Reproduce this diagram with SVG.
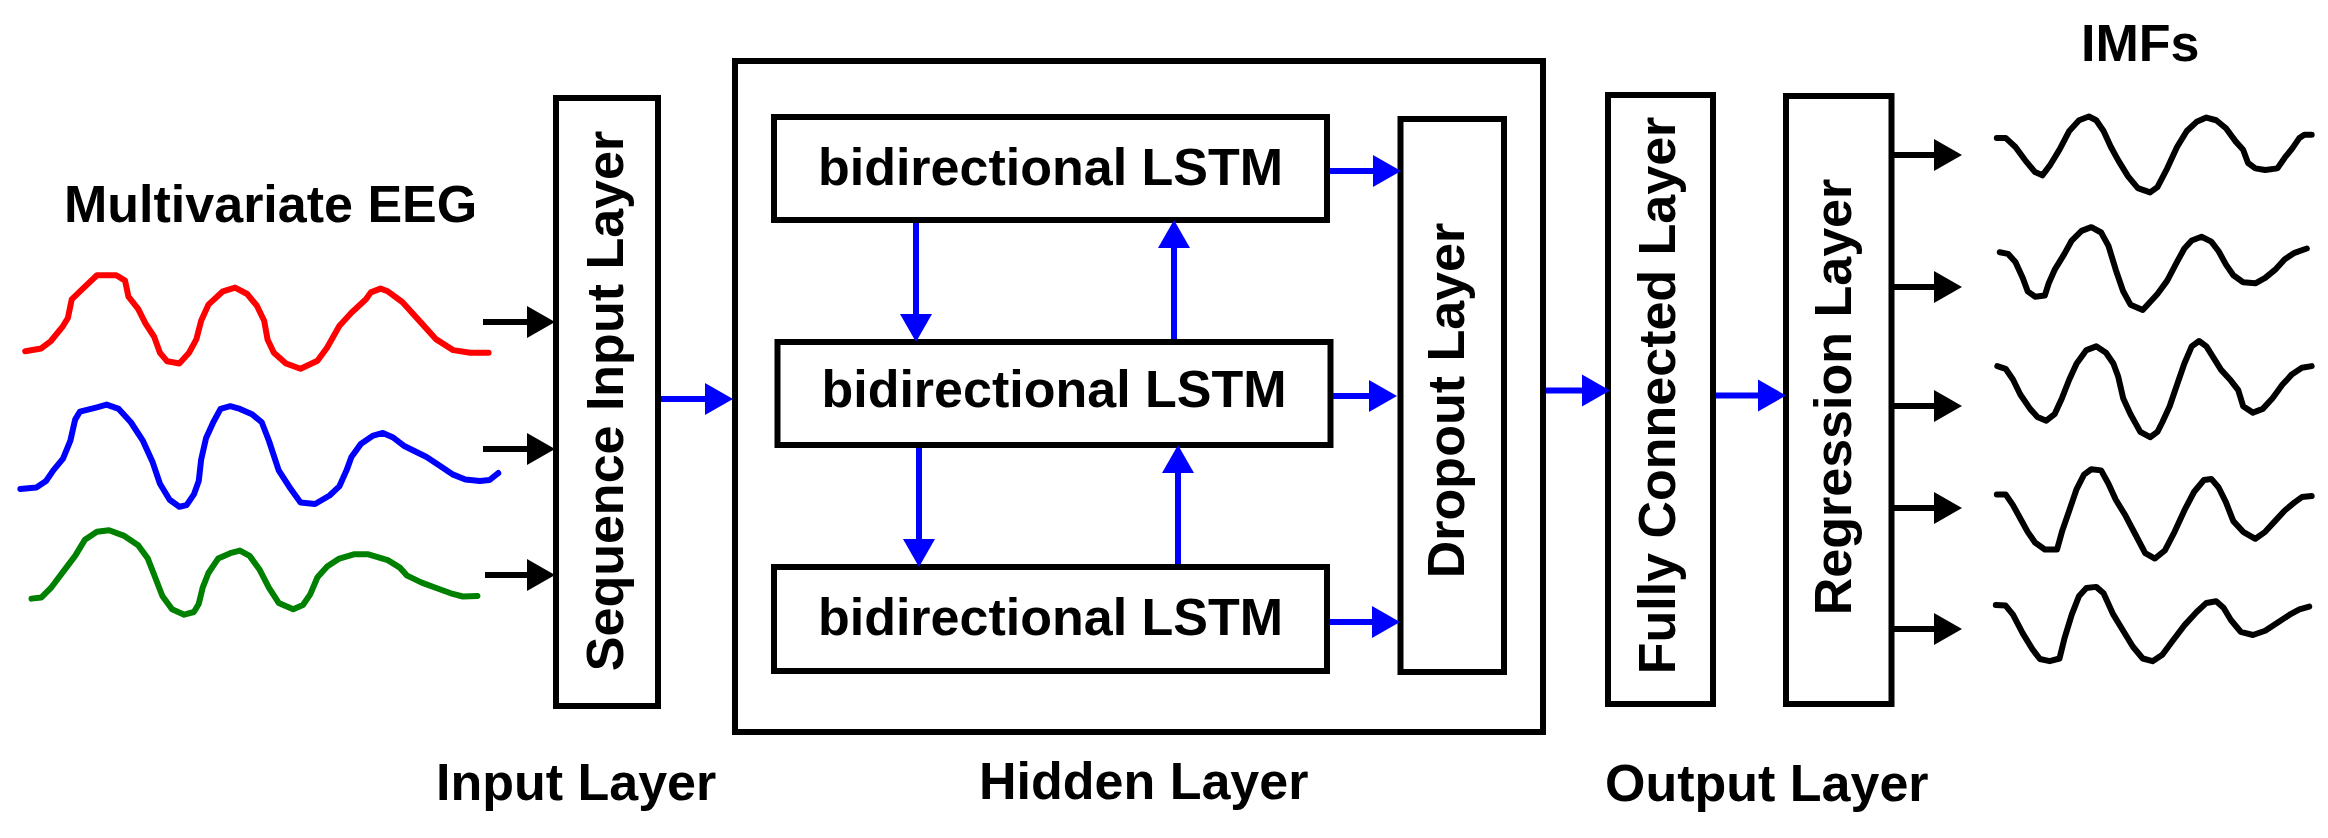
<svg xmlns="http://www.w3.org/2000/svg" width="2328" height="838" viewBox="0 0 2328 838">
<style>
.box{fill:#fff;stroke:#000;stroke-width:6}
.t{font-family:"Liberation Sans",Arial,Helvetica,sans-serif;font-weight:bold;font-size:52px;fill:#000}
.blue{stroke:#0000ff;stroke-width:6;fill:none;marker-end:url(#hb)}
.black{stroke:#000;stroke-width:6;fill:none;marker-end:url(#hk)}
.wave{fill:none;stroke-width:6;stroke-linejoin:round;stroke-linecap:round}
</style>
<defs>
<marker id="hb" markerUnits="userSpaceOnUse" markerWidth="28" markerHeight="32" refX="0" refY="16" orient="auto" overflow="visible">
<path d="M0,0 L28,16 L0,32 z" fill="#0000ff"/>
</marker>
<marker id="hk" markerUnits="userSpaceOnUse" markerWidth="28" markerHeight="32" refX="0" refY="16" orient="auto" overflow="visible">
<path d="M0,0 L28,16 L0,32 z" fill="#000"/>
</marker>
</defs>
<rect width="2328" height="838" fill="#fff"/>

<g id="eeg-signals">
<text class="t" x="64" y="222">Multivariate EEG</text>
<g transform="scale(0.4847,0.5345)">
<polyline class="wave" vector-effect="non-scaling-stroke" stroke="#ff0000" points="52,657 85,652 105,638 130,610 140,595 148,560 165,545 200,515 240,515 258,525 265,555 285,578 300,605 318,630 330,660 345,676 370,680 390,660 405,635 415,600 430,570 460,545 485,538 510,550 530,572 545,600 552,635 565,660 590,680 620,690 655,675 675,650 700,610 725,585 755,560 765,547 785,540 800,545 830,565 870,605 900,635 935,655 970,660 1008,660"/>
<polyline class="wave" vector-effect="non-scaling-stroke" stroke="#0000ff" points="42,915 75,912 95,900 110,880 130,858 145,825 155,785 165,770 200,762 220,757 245,765 270,790 295,825 315,865 330,905 350,935 370,948 385,945 400,925 410,900 415,860 425,820 440,790 455,765 475,760 495,765 520,775 540,790 555,825 575,880 600,915 620,940 650,943 680,927 700,910 715,880 725,855 745,830 770,815 790,810 810,818 835,835 880,855 905,870 935,888 960,897 990,900 1010,898 1028,885"/>
<polyline class="wave" vector-effect="non-scaling-stroke" stroke="#008000" points="65,1120 85,1118 105,1100 130,1070 155,1040 175,1010 200,995 225,992 255,1002 285,1020 305,1045 320,1080 335,1115 355,1140 380,1150 400,1145 410,1130 418,1100 430,1072 450,1045 475,1035 495,1030 515,1040 535,1065 555,1100 575,1128 605,1140 625,1132 640,1112 655,1080 675,1060 700,1045 730,1037 760,1037 800,1048 825,1062 840,1077 870,1090 900,1100 930,1110 955,1116 985,1115"/>
</g>
</g>

<g id="input-layer">
<rect class="box" x="556" y="98" width="102" height="608"/>
<text class="t" text-anchor="middle" transform="translate(622.5,401) rotate(-90)">Sequence Input Layer</text>
<text class="t" x="436" y="800">Input Layer</text>
</g>

<g id="hidden-layer">
<rect class="box" x="735" y="61" width="808" height="671"/>
<text class="t" x="979" y="799">Hidden Layer</text>
</g>

<g id="lstm1">
<rect class="box" x="774" y="117" width="553" height="103"/>
<text class="t" x="1050.5" y="185" text-anchor="middle">bidirectional LSTM</text>
</g>
<g id="lstm2">
<rect class="box" x="777.5" y="342" width="553" height="103"/>
<text class="t" x="1054" y="407" text-anchor="middle">bidirectional LSTM</text>
</g>
<g id="lstm3">
<rect class="box" x="774" y="567" width="553" height="104"/>
<text class="t" x="1050.5" y="634.5" text-anchor="middle">bidirectional LSTM</text>
</g>

<g id="dropout">
<rect class="box" x="1400.5" y="119" width="103.5" height="553"/>
<text class="t" text-anchor="middle" transform="translate(1464,400.5) rotate(-90)">Dropout Layer</text>
</g>

<g id="fully-connected">
<rect class="box" x="1608" y="95" width="105" height="609"/>
<text class="t" text-anchor="middle" transform="translate(1675,395.5) rotate(-90)">Fully Connected Layer</text>
</g>

<g id="regression">
<rect class="box" x="1786" y="96" width="105.5" height="608"/>
<text class="t" text-anchor="middle" transform="translate(1851,397) rotate(-90)">Regression Layer</text>
<text class="t" x="1605" y="801">Output Layer</text>
</g>

<g id="imfs">
<text class="t" x="2081" y="61">IMFs</text>
<g transform="translate(1560,0) scale(0.4897,0.5345)">
<polyline class="wave" vector-effect="non-scaling-stroke" stroke="#000" points="892,258 910,258 930,275 950,300 970,322 985,328 1000,310 1020,280 1040,245 1060,225 1080,218 1095,225 1110,245 1125,275 1140,300 1160,330 1180,352 1205,360 1220,350 1240,315 1260,275 1280,245 1300,228 1320,220 1340,225 1360,240 1380,265 1395,280 1405,305 1420,315 1440,318 1465,315 1480,295 1495,278 1510,258 1520,252 1535,252"/>
<polyline class="wave" vector-effect="non-scaling-stroke" stroke="#000" points="898,472 915,475 930,490 945,520 955,545 970,555 990,553 998,530 1010,505 1030,475 1045,450 1065,432 1085,425 1105,435 1120,460 1135,505 1150,545 1165,570 1190,580 1205,565 1220,550 1240,525 1260,490 1275,465 1290,450 1310,443 1330,452 1345,470 1360,495 1375,515 1395,528 1420,530 1440,520 1460,505 1480,485 1500,473 1525,465"/>
<polyline class="wave" vector-effect="non-scaling-stroke" stroke="#000" points="893,685 910,690 925,710 940,738 960,765 975,780 993,787 1010,775 1025,745 1040,710 1055,680 1075,655 1095,648 1115,660 1130,680 1140,705 1150,745 1165,775 1185,808 1205,818 1220,808 1230,790 1245,760 1260,720 1275,680 1290,648 1305,638 1320,648 1335,670 1350,692 1370,712 1385,730 1395,760 1415,772 1435,765 1455,745 1475,720 1495,700 1515,688 1535,685"/>
<polyline class="wave" vector-effect="non-scaling-stroke" stroke="#000" points="892,925 910,925 925,945 940,970 955,995 970,1015 990,1028 1015,1028 1025,995 1040,955 1055,915 1070,888 1085,878 1105,880 1120,905 1135,935 1155,965 1175,1000 1195,1035 1215,1045 1235,1030 1255,995 1275,955 1295,920 1315,898 1330,896 1345,912 1360,940 1375,975 1395,995 1420,1008 1440,995 1460,975 1480,955 1500,940 1515,930 1535,928"/>
<polyline class="wave" vector-effect="non-scaling-stroke" stroke="#000" points="890,1132 910,1133 925,1150 945,1185 965,1215 980,1233 1000,1237 1020,1232 1030,1195 1045,1150 1060,1115 1075,1100 1095,1098 1110,1110 1130,1150 1150,1180 1170,1210 1190,1232 1210,1237 1230,1225 1250,1200 1275,1170 1300,1145 1320,1128 1340,1125 1355,1137 1370,1160 1390,1182 1415,1188 1440,1180 1465,1165 1490,1150 1510,1140 1530,1135"/>
</g>
</g>

<g id="connectors">
<line class="black" x1="483" y1="322" x2="527" y2="322"/>
<line class="black" x1="483" y1="449" x2="527" y2="449"/>
<line class="black" x1="485" y1="575" x2="527" y2="575"/>
<line class="blue" x1="661" y1="399" x2="705" y2="399"/>
<line class="blue" x1="1330" y1="171" x2="1373" y2="171"/>
<line class="blue" x1="1333" y1="396" x2="1369" y2="396"/>
<line class="blue" x1="1330" y1="622" x2="1372" y2="622"/>
<line class="blue" x1="916" y1="223" x2="916" y2="314"/>
<line class="blue" x1="1174" y1="339" x2="1174" y2="248"/>
<line class="blue" x1="919" y1="448" x2="919" y2="539"/>
<line class="blue" x1="1178" y1="564" x2="1178" y2="473"/>
<line class="blue" x1="1546" y1="390.5" x2="1582" y2="390.5"/>
<line class="blue" x1="1716" y1="395.5" x2="1758" y2="395.5"/>
<line class="black" x1="1894" y1="155" x2="1934" y2="155"/>
<line class="black" x1="1894" y1="287" x2="1934" y2="287"/>
<line class="black" x1="1894" y1="406" x2="1934" y2="406"/>
<line class="black" x1="1894" y1="508" x2="1934" y2="508"/>
<line class="black" x1="1894" y1="629" x2="1934" y2="629"/>
</g>
</svg>
